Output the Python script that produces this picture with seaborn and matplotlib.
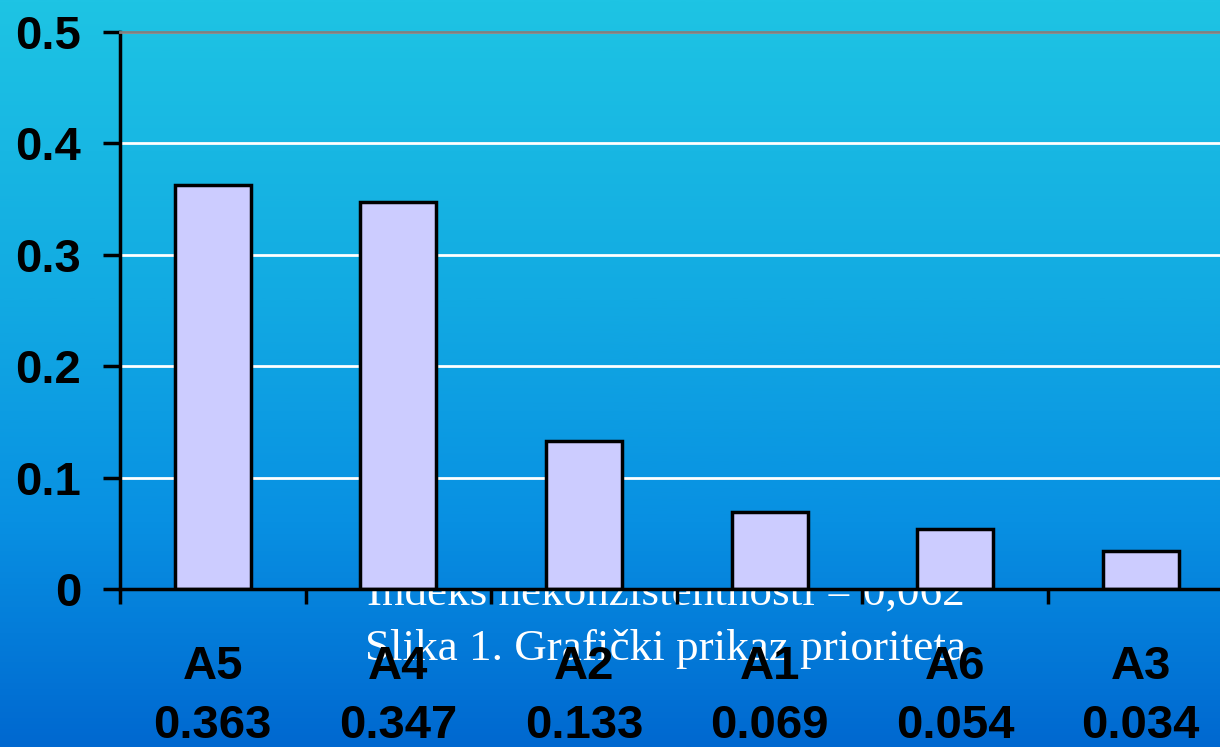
import numpy as np
import pandas as pd
import matplotlib
matplotlib.use("Agg")
import matplotlib.pyplot as plt
from matplotlib.colors import LinearSegmentedColormap
from matplotlib.transforms import Bbox, TransformedBbox
import seaborn as sns

# ---- data ----
categories = ["A5", "A4", "A2", "A1", "A6", "A3"]
values = [0.363, 0.347, 0.133, 0.069, 0.054, 0.034]
value_labels = ["0.363", "0.347", "0.133", "0.069", "0.054", "0.034"]
y_ticks = [0.0, 0.1, 0.2, 0.3, 0.4, 0.5]
y_tick_labels = ["0", "0.1", "0.2", "0.3", "0.4", "0.5"]
caption_lines = ["Indeks nekonzistentnosti = 0,062",
                 "Slika 1. Grafički prikaz prioriteta"]

sns.set_theme(style="white")
plt.rcParams["font.family"] = ["Liberation Sans", "DejaVu Sans"]

W, H = 1220, 747
fig = plt.figure(figsize=(W / 100, H / 100), dpi=100)

# background gradient (with the caption text drawn inside it, behind the chart)
bg = fig.add_axes([0, 0, 1, 1], zorder=0)
cmap = LinearSegmentedColormap.from_list(
    "bg", [(0.0, "#1ec4e4"), (0.4, "#12aae2"), (0.7, "#0890e2"), (1.0, "#0068d0")])
grad = np.linspace(0, 1, 512).reshape(-1, 1)
bg.imshow(grad, aspect="auto", cmap=cmap, extent=[0, 1, 0, 1], origin="upper", zorder=0)
bg.set_xlim(0, 1)
bg.set_ylim(0, 1)
bg.set_axis_off()

clip = TransformedBbox(Bbox([[0, 0], [1, (H - 589) / H]]), fig.transFigure)
for txt, yb in zip(caption_lines, [605, 660]):
    t = bg.text(666 / W, 1 - yb / H, txt, ha="center", va="baseline",
                transform=bg.transAxes, color="white", fontsize=32.5,
                family=["Liberation Serif", "DejaVu Serif"], zorder=1)
    t.set_clip_box(clip)
    t.set_clip_on(True)

# main chart
ax = fig.add_axes([120 / W, (H - 589) / H, 1113.6 / W, (589 - 32) / H], zorder=2)
ax.patch.set_alpha(0)

df = pd.DataFrame({
    "label": [f"{c}\n{v}" for c, v in zip(categories, value_labels)],
    "value": values,
})
sns.barplot(data=df, x="label", y="value", ax=ax, width=0.41,
            color="#ccccff", saturation=1, edgecolor="black", linewidth=2.5)

ax.set_ylim(0, 0.5)
ax.set_xlim(-0.5, len(categories) - 0.5)
ax.set_yticks(y_ticks, y_tick_labels)
ax.set_xlabel("")
ax.set_ylabel("")
ax.set_axisbelow(True)
ax.yaxis.grid(True, color="white", linewidth=2)
ax.xaxis.grid(False)

for s in ["left", "bottom"]:
    ax.spines[s].set_color("black")
    ax.spines[s].set_linewidth(2.5)
ax.spines["right"].set_visible(False)
ax.spines["top"].set_color("#808080")
ax.spines["top"].set_linewidth(2)

ax.tick_params(axis="y", which="major", left=True, length=12, width=2.5,
               color="black", pad=16, labelsize=34, labelcolor="black")
for lab in ax.get_yticklabels():
    lab.set_fontweight("bold")

ax.set_xticks(np.arange(-0.5, len(categories), 1.0), minor=True)
ax.tick_params(axis="x", which="minor", bottom=True, length=11, width=2.5, color="black")
ax.tick_params(axis="x", which="major", bottom=False, length=0, pad=40,
               labelsize=34, labelcolor="black")
for lab in ax.get_xticklabels():
    lab.set_fontweight("bold")
    lab.set_linespacing(1.45)

fig.savefig("out.png", dpi=100)
